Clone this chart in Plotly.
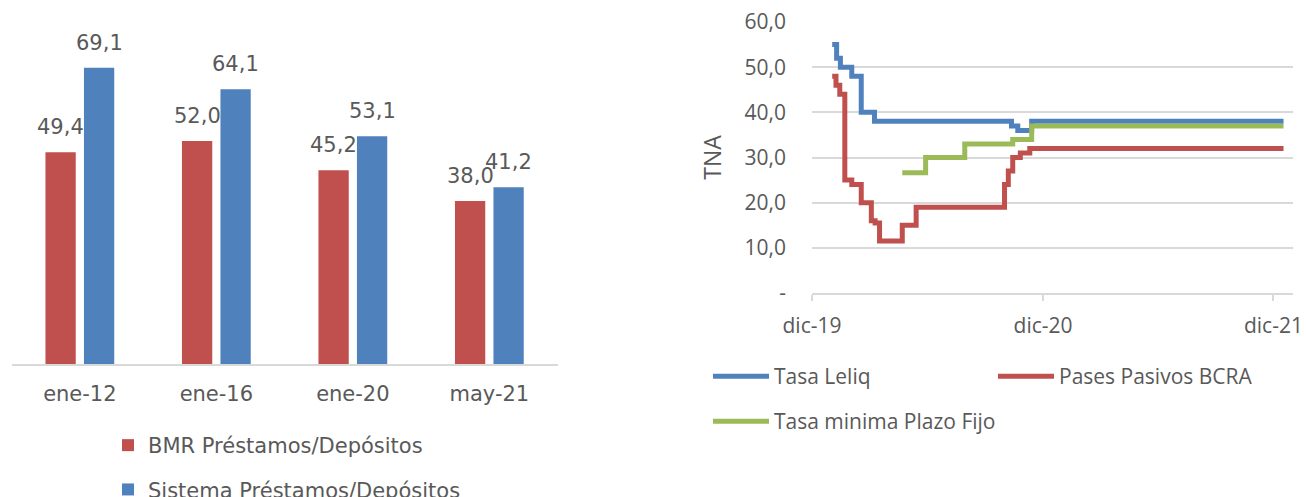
import plotly.graph_objects as go

# Left panel: loans / deposits ratio (%)
periods = ["ene-12", "ene-16", "ene-20", "may-21"]
bmr_ratio = [49.4, 52.0, 45.2, 38.0]
sistema_ratio = [69.1, 64.1, 53.1, 41.2]

# Right panel: rates (TNA, %) at each step change
leliq_dates = ["2020-01-02", "2020-01-09", "2020-01-15", "2020-02-02", "2020-02-17",
               "2020-03-09", "2020-10-12", "2020-10-22", "2020-11-13", "2021-12-17"]
leliq_rates = [55.0, 52.0, 50.0, 48.0, 40.0, 38.0, 37.0, 36.0, 38.0, 38.0]

pases_dates = ["2020-01-02", "2020-01-08", "2020-01-14", "2020-01-22", "2020-02-02",
               "2020-02-17", "2020-03-04", "2020-03-10", "2020-03-17", "2020-04-22",
               "2020-05-14", "2020-10-01", "2020-10-07", "2020-10-14", "2020-10-26",
               "2020-11-10", "2021-12-17"]
pases_rates = [48.0, 46.0, 44.0, 25.0, 24.0, 20.0, 16.0, 15.5, 11.5, 15.0,
               19.0, 24.0, 27.0, 30.0, 31.0, 32.0, 32.0]

plazo_fijo_dates = ["2020-04-22", "2020-05-29", "2020-07-30", "2020-10-14", "2020-11-13", "2021-12-17"]
plazo_fijo_rates = [26.6, 30.0, 33.0, 34.0, 37.0, 37.0]

rate_ticks = [0, 10, 20, 30, 40, 50, 60]
rate_tick_text = ["-", "10,0", "20,0", "30,0", "40,0", "50,0", "60,0"]
date_ticks = ["2019-12-01", "2020-12-01", "2021-12-01"]
date_tick_text = ["dic-19", "dic-20", "dic-21"]

RED = "#C0504D"
BLUE = "#4F81BD"
GREEN = "#9BBB59"
TEXT = "#595959"
GRID = "#D9D9D9"
FONT_L = "DejaVu Sans"
FONT_R = "Open Sans"

W, H = 1306, 497

fig = go.Figure()

fig.add_trace(go.Bar(
    x=periods, y=bmr_ratio, name="BMR Préstamos/Depósitos",
    marker=dict(color=RED, line=dict(width=0)),
    xaxis="x", yaxis="y", legend="legend", legendgroup="bmr",
))
fig.add_trace(go.Bar(
    x=periods, y=sistema_ratio, name="Sistema Préstamos/Depósitos",
    marker=dict(color=BLUE, line=dict(width=0)),
    xaxis="x", yaxis="y", legend="legend", legendgroup="sis",
))

fig.add_trace(go.Scatter(
    x=leliq_dates, y=leliq_rates, name="Tasa Leliq", mode="lines",
    line=dict(color=BLUE, width=5, shape="hv"),
    xaxis="x2", yaxis="y2", legend="legend2",
))
fig.add_trace(go.Scatter(
    x=pases_dates, y=pases_rates, name="Pases Pasivos BCRA", mode="lines",
    line=dict(color=RED, width=5, shape="hv"),
    xaxis="x2", yaxis="y2", legend="legend2",
))
fig.add_trace(go.Scatter(
    x=plazo_fijo_dates, y=plazo_fijo_rates, name="Tasa minima Plazo Fijo", mode="lines",
    line=dict(color=GREEN, width=5, shape="hv"),
    xaxis="x2", yaxis="y2", legend="legend3",
))

# value labels above each bar
slot_px = 19.25
annotations = []
for cat, v in zip(periods, bmr_ratio):
    annotations.append(dict(x=cat, y=v, xref="x", yref="y", text=f"{v:.1f}".replace(".", ","),
                            showarrow=False, xshift=-slot_px, yshift=25, yanchor="middle",
                            font=dict(family=FONT_L, size=21, color=TEXT)))
for cat, v in zip(periods, sistema_ratio):
    annotations.append(dict(x=cat, y=v, xref="x", yref="y", text=f"{v:.1f}".replace(".", ","),
                            showarrow=False, xshift=slot_px, yshift=25, yanchor="middle",
                            font=dict(family=FONT_L, size=21, color=TEXT)))

fig.update_layout(
    width=W, height=H,
    margin=dict(l=0, r=0, t=0, b=0, autoexpand=False),
    paper_bgcolor="white", plot_bgcolor="white",
    barmode="group", bargap=0.436, bargroupgap=0.213,
    annotations=annotations,
    xaxis=dict(
        domain=[11.6 / W, 557.6 / W], anchor="y",
        showline=True, linecolor=GRID, linewidth=1.5, showgrid=False, zeroline=False,
        ticks="", ticklabelstandoff=10,
        tickfont=dict(family=FONT_L, size=21, color=TEXT),
    ),
    yaxis=dict(domain=[1 - 364 / H, 1 - 21 / H], anchor="x", range=[0, 80], visible=False),
    xaxis2=dict(
        domain=[812 / W, 1293 / W], anchor="y2", type="date",
        range=["2019-12-01", "2022-01-01"],
        tickmode="array", tickvals=date_ticks, ticktext=date_tick_text,
        ticks="outside", ticklen=6, tickcolor=GRID, tickwidth=1.5,
        showline=True, linecolor=GRID, linewidth=1.5, showgrid=False, zeroline=False,
        ticklabelstandoff=7,
        tickfont=dict(family=FONT_R, size=21, color=TEXT),
    ),
    yaxis2=dict(
        domain=[1 - 293 / H, 1 - 22 / H], anchor="x2", range=[0, 60],
        tickmode="array", tickvals=rate_ticks, ticktext=rate_tick_text,
        showgrid=True, gridcolor=GRID, gridwidth=1.5, zeroline=False, showline=False,
        ticks="", ticklabelstandoff=25,
        tickfont=dict(family=FONT_R, size=21, color=TEXT),
        title=dict(text="TNA", font=dict(family=FONT_R, size=23, color=TEXT), standoff=16),
    ),
    legend=dict(
        orientation="v", x=108 / W, y=1 - 425 / H, xanchor="left", yanchor="top",
        tracegroupgap=14, bgcolor="rgba(0,0,0,0)",
        font=dict(family=FONT_L, size=21, color=TEXT),
    ),
    legend2=dict(
        orientation="h", x=708 / W, y=1 - 356 / H, xanchor="left", yanchor="top",
        entrywidth=214, entrywidthmode="pixels", itemwidth=56, bgcolor="rgba(0,0,0,0)",
        font=dict(family=FONT_R, size=21, color=TEXT),
    ),
    legend3=dict(
        orientation="h", x=708 / W, y=1 - 401 / H, xanchor="left", yanchor="top",
        itemwidth=56, bgcolor="rgba(0,0,0,0)",
        font=dict(family=FONT_R, size=21, color=TEXT),
    ),
)

fig.write_html("out.html")
